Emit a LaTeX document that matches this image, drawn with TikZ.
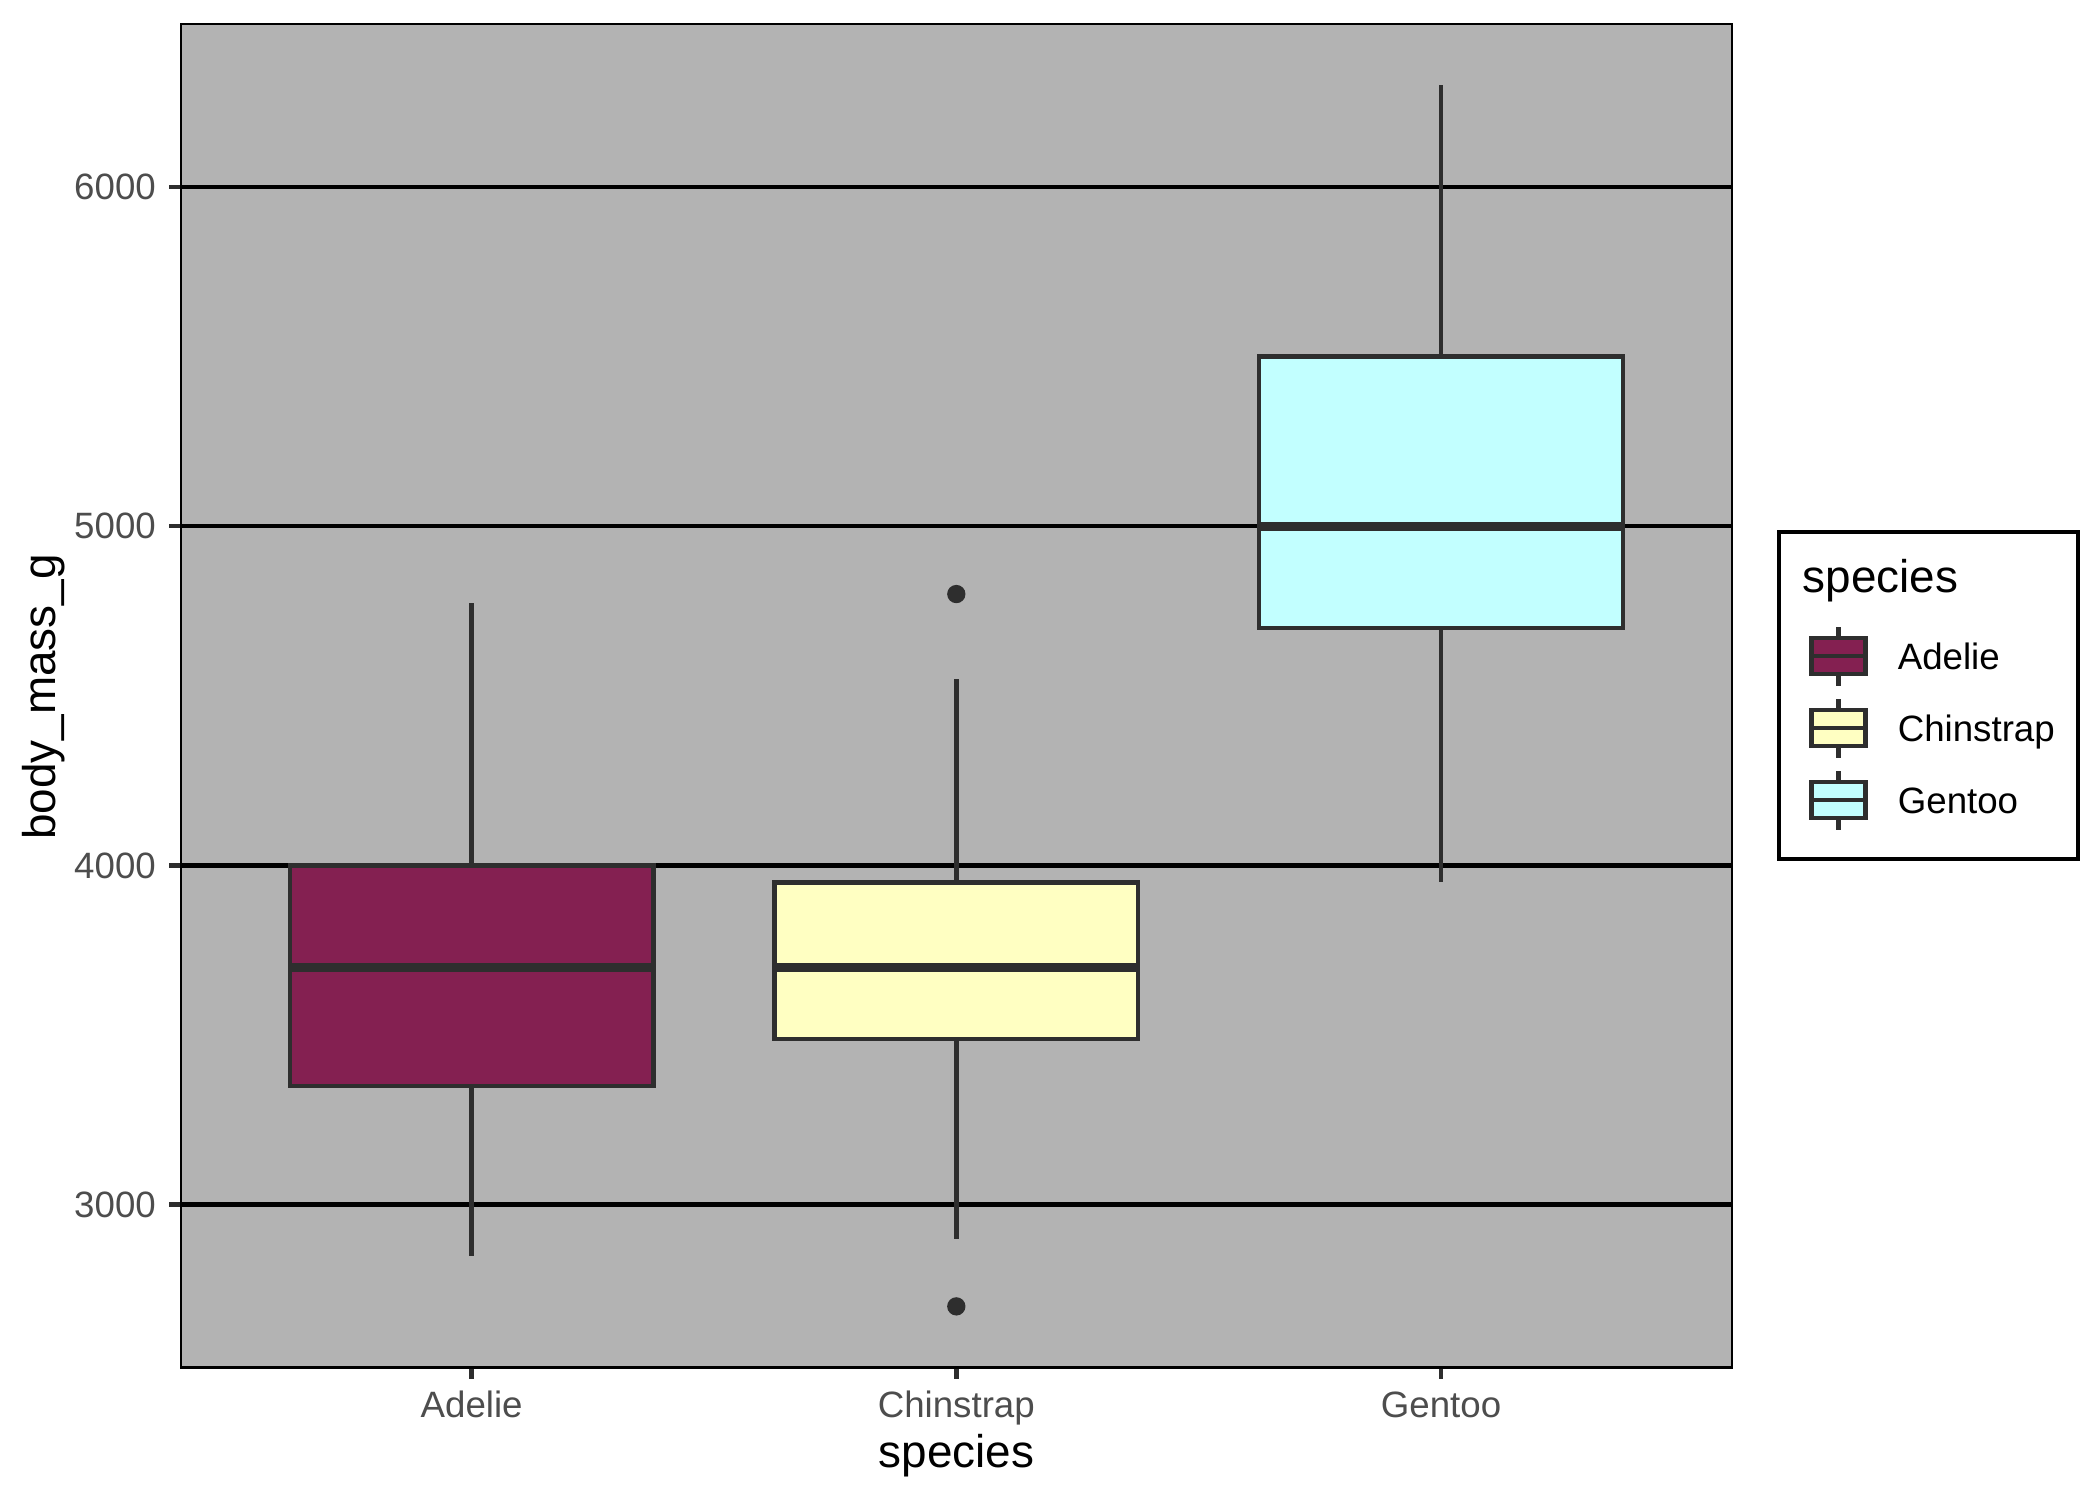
\documentclass[tikz,border=0pt]{standalone}
\usepackage{fontspec}
\setmainfont{Liberation Sans}
\definecolor{panelgray}{HTML}{B3B3B3}
\definecolor{boxline}{HTML}{2E2E2E}
\definecolor{ticktext}{HTML}{4D4D4D}
\definecolor{adelie}{HTML}{842051}
\definecolor{chinstrap}{HTML}{FFFFC2}
\definecolor{gentoo}{HTML}{C2FFFF}
\begin{document}
\begin{tikzpicture}[x=0.24bp, y=-0.24bp]

    % Styles
    \tikzstyle{panelbg} = [fill=panelgray]
    \tikzstyle{panelframe} = [draw=black, line width=0.53bp]
    \tikzstyle{gridline} = [black, line width=1.07bp]
    \tikzstyle{boxbody} = [draw=boxline, line width=1.07bp]
    \tikzstyle{medianline} = [boxline, line width=2.13bp]
    \tikzstyle{keymedian} = [boxline, line width=1.07bp]
    \tikzstyle{whiskerline} = [boxline, line width=1.07bp]
    \tikzset{outlierdot/.style={fill=boxline}}
    \tikzset{tickmark/.style={boxline, line width=1.07bp}}
    \tikzset{ticklabel/.style={text=ticktext, inner sep=0, font=\fontsize{8.8bp}{10bp}\selectfont}}
    \tikzset{axistitle/.style={inner sep=0, font=\fontsize{11bp}{13bp}\selectfont}}
    \tikzset{legendframe/.style={draw=black, line width=1.07bp}}
    \tikzset{legendlabel/.style={inner sep=0, font=\fontsize{8.8bp}{10bp}\selectfont}}

    \useasboundingbox (0,0) rectangle (2100,1500);

    % Panel
    \fill[panelbg] (180.8,24.1) rectangle (1731.7,1367.4);

    \begin{scope}[shift={(-13.06,2222.2)}, x=116.32bp, y=0.081413bp]
    % Grid
    \draw[gridline] (0.4,3000) -- (3.6,3000);
    \draw[gridline] (0.4,4000) -- (3.6,4000);
    \draw[gridline] (0.4,5000) -- (3.6,5000);
    \draw[gridline] (0.4,6000) -- (3.6,6000);

    % Adelie
    \draw[whiskerline] (1,4000) -- (1,4775);
    \draw[whiskerline] (1,3350) -- (1,2850);
    \filldraw[boxbody, fill=adelie] (0.625,3350) rectangle (1.375,4000);
    \draw[medianline] (0.625,3700) -- (1.375,3700);

    % Chinstrap
    \draw[whiskerline] (2,3950) -- (2,4550);
    \draw[whiskerline] (2,3487.5) -- (2,2900);
    \filldraw[boxbody, fill=chinstrap] (1.625,3487.5) rectangle (2.375,3950);
    \draw[medianline] (1.625,3700) -- (2.375,3700);
    \fill[outlierdot] (2,4800) circle (2.2bp);
    \fill[outlierdot] (2,2700) circle (2.2bp);

    % Gentoo
    \draw[whiskerline] (3,5500) -- (3,6300);
    \draw[whiskerline] (3,4700) -- (3,3950);
    \filldraw[boxbody, fill=gentoo] (2.625,4700) rectangle (3.375,5500);
    \draw[medianline] (2.625,5000) -- (3.375,5000);

    % Axes
    \draw[tickmark] (0.4,3000) -- ++(-2.75bp,0);
    \draw[tickmark] (0.4,4000) -- ++(-2.75bp,0);
    \draw[tickmark] (0.4,5000) -- ++(-2.75bp,0);
    \draw[tickmark] (0.4,6000) -- ++(-2.75bp,0);
    \node (ylab3) [ticklabel, anchor=east] at ([xshift=-5.8bp]0.4,3000) {3000};
    \node (ylab4) [ticklabel, anchor=east] at ([xshift=-5.8bp]0.4,4000) {4000};
    \node (ylab5) [ticklabel, anchor=east] at ([xshift=-5.8bp]0.4,5000) {5000};
    \node (ylab6) [ticklabel, anchor=east] at ([xshift=-5.8bp]0.4,6000) {6000};
    \draw[tickmark] (1,2520) -- ++(0,-2.75bp);
    \draw[tickmark] (2,2520) -- ++(0,-2.75bp);
    \draw[tickmark] (3,2520) -- ++(0,-2.75bp);
    \node (xlab1) [ticklabel, anchor=base] at ([yshift=-11.9bp]1,2520) {Adelie};
    \node (xlab2) [ticklabel, anchor=base] at ([yshift=-11.9bp]2,2520) {Chinstrap};
    \node (xlab3) [ticklabel, anchor=base] at ([yshift=-11.9bp]3,2520) {Gentoo};
    \end{scope}

    \draw[panelframe] (180.8,24.1) rectangle (1731.7,1367.4);

    % Titles
    \node (xtitle) [axistitle, anchor=base] at (956.3,1467) {species};
    \node (ytitle) [axistitle, rotate=90, anchor=base] at (55,697) {body\_mass\_g};

    % Legend
    \draw[legendframe] (1779,532) rectangle (2078,859);
    \node (legtitle) [axistitle, anchor=base west] at (1802,592) {species};

    \draw[whiskerline] (1838.5,627) -- (1838.5,686);
    \filldraw[boxbody, fill=adelie] (1811.5,638) rectangle (1865.5,674);
    \draw[keymedian] (1811.5,656) -- (1865.5,656);
    \node (legadelie) [legendlabel, anchor=base west] at (1897,669) {Adelie};

    \draw[whiskerline] (1838.5,699) -- (1838.5,758);
    \filldraw[boxbody, fill=chinstrap] (1811.5,710) rectangle (1865.5,746);
    \draw[keymedian] (1811.5,728) -- (1865.5,728);
    \node (legchinstrap) [legendlabel, anchor=base west] at (1897,741) {Chinstrap};

    \draw[whiskerline] (1838.5,771) -- (1838.5,830);
    \filldraw[boxbody, fill=gentoo] (1811.5,782) rectangle (1865.5,818);
    \draw[keymedian] (1811.5,800) -- (1865.5,800);
    \node (leggentoo) [legendlabel, anchor=base west] at (1897,813) {Gentoo};
\end{tikzpicture}
\end{document}
